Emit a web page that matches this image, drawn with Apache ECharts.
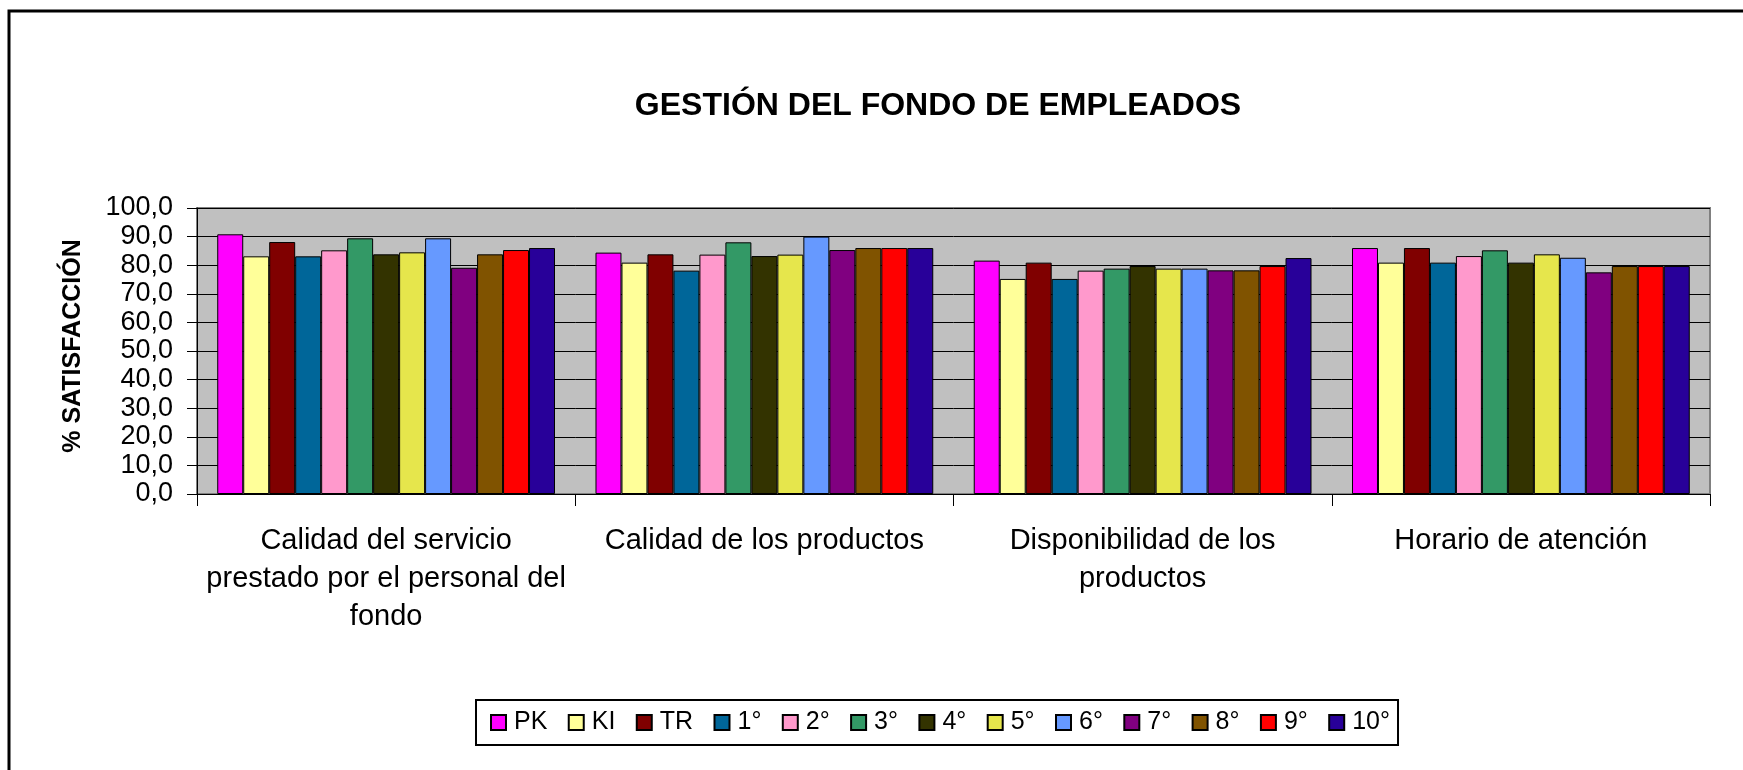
<!DOCTYPE html>
<html>
<head>
<meta charset="utf-8">
<script src="https://cdn.jsdelivr.net/npm/echarts@6/dist/echarts.min.js"></script>
<style>
  html, body { margin: 0; padding: 0; background: #fff; }
  #chart { width: 1743px; height: 770px; }
</style>
</head>
<body>
<div id="chart"></div>
<script>
// categorias y valores
var categories = [
  'Calidad del servicio\nprestado por el personal del\nfondo',
  'Calidad de los productos',
  'Disponibilidad de los\nproductos',
  'Horario de atención'
];
var seriesNames = ['PK', 'KI', 'TR', '1°', '2°', '3°', '4°', '5°', '6°', '7°', '8°', '9°', '10°'];
var colors = ['#FF00FF', '#FFFF99', '#800000', '#006699', '#FF99CC', '#339966', '#333300',
              '#E6E64C', '#6699FF', '#800080', '#805300', '#FF0000', '#280099'];

var PK   = [90.8, 84.4, 81.6, 86.0];
var KI   = [83.1, 80.9, 75.2, 80.9];
var TR   = [88.1, 83.8, 80.9, 86.0];
var s1   = [83.1, 78.1, 75.2, 80.9];
var s2   = [85.2, 83.7, 78.1, 83.2];
var s3   = [89.4, 88.0, 78.8, 85.2];
var s4   = [83.8, 83.2, 79.7, 80.9];
var s5   = [84.5, 83.7, 78.8, 83.8];
var s6   = [89.4, 90.0, 78.8, 82.6];
var s7   = [79.1, 85.3, 78.2, 77.5];
var s8   = [83.8, 86.0, 78.2, 79.7];
var s9   = [85.3, 86.0, 79.7, 79.7];
var s10  = [86.0, 86.0, 82.5, 79.7];
var values = [PK, KI, TR, s1, s2, s3, s4, s5, s6, s7, s8, s9, s10];

var yTicks = { min: 0, max: 100, interval: 10 };

var myChart = echarts.init(document.getElementById('chart'));

var series = seriesNames.map(function (name, i) {
  return {
    name: name,
    type: 'bar',
    barGap: '0%',
    barCategoryGap: '10.7%',
    itemStyle: {
      color: colors[i],
      borderColor: '#000',
      borderWidth: 1
    },
    data: values[i]
  };
});

var option = {
  animation: false,
  textStyle: { fontFamily: 'Liberation Sans, Arial, sans-serif', color: '#000' },
  title: {
    text: 'GESTIÓN DEL FONDO DE EMPLEADOS',
    left: 933,
    top: 85,
    textAlign: 'center',
    textStyle: {
      fontSize: 32,
      fontWeight: 'bold',
      color: '#000',
      fontFamily: 'Liberation Sans, Arial, sans-serif'
    }
  },
  legend: {
    left: 476,
    top: 700,
    padding: [10, 8, 10, 14],
    borderColor: '#000',
    borderWidth: 2,
    itemWidth: 15,
    itemHeight: 15,
    itemGap: 20.4,
    icon: 'rect',
    textStyle: { fontSize: 25, color: '#000', padding: [0, 0, 0, 3] },
    data: seriesNames
  },
  grid: {
    left: 197,
    right: 33,
    top: 208,
    bottom: 276,
    show: true,
    backgroundColor: '#C0C0C0',
    borderColor: '#808080',
    borderWidth: 2
  },
  xAxis: {
    type: 'category',
    data: categories,
    axisLine: { lineStyle: { color: '#000', width: 1 } },
    axisTick: { show: true, length: 12, lineStyle: { color: '#000' } },
    axisLabel: {
      fontSize: 29,
      color: '#000',
      lineHeight: 38,
      margin: 28,
      interval: 0
    }
  },
  yAxis: {
    type: 'value',
    min: yTicks.min,
    max: yTicks.max,
    interval: yTicks.interval,
    axisLine: { show: true, lineStyle: { color: '#000', width: 1 } },
    axisTick: { show: true, length: 10, lineStyle: { color: '#000' } },
    axisLabel: {
      fontSize: 27,
      color: '#000',
      margin: 24,
      formatter: function (v) { return v.toFixed(1).replace('.', ','); }
    },
    splitLine: { lineStyle: { color: '#000', width: 1 } }
  },
  graphic: [
    {
      type: 'rect',
      silent: true,
      shape: { x: 9, y: 11, width: 2000, height: 2000 },
      style: { fill: 'none', stroke: '#000', lineWidth: 3 }
    },
    {
      type: 'text',
      silent: true,
      x: 73,
      y: 346,
      rotation: Math.PI / 2,
      style: {
        text: '% SATISFACCIÓN',
        fontSize: 25,
        fontWeight: 'bold',
        fontFamily: 'Liberation Sans, Arial, sans-serif',
        fill: '#000',
        textAlign: 'center',
        textVerticalAlign: 'middle'
      }
    }
  ],
  series: series
};

myChart.setOption(option);
window.addEventListener('resize', function () {
  myChart.resize();
});
</script>
</body>
</html>
